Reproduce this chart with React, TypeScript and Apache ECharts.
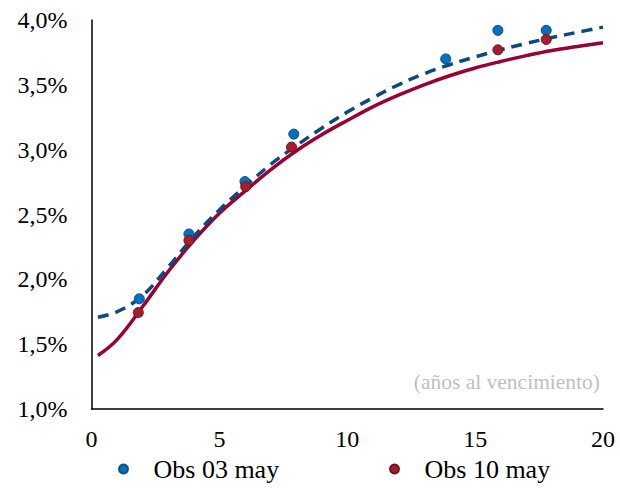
import React, { useEffect, useRef } from "react";
import * as echarts from "echarts";

const curveTenors = [0.25, 1, 2, 3, 4, 5, 6, 7, 8, 9, 10, 11, 12, 13, 14, 15, 16, 17, 18, 19, 20];
const curve03May = [1.708, 1.75, 1.875, 2.095, 2.33, 2.535, 2.715, 2.885, 3.03, 3.165, 3.29, 3.4, 3.5, 3.585, 3.655, 3.715, 3.77, 3.82, 3.865, 3.905, 3.945];
const curve10May = [1.413, 1.535, 1.79, 2.06, 2.3, 2.51, 2.68, 2.845, 2.99, 3.115, 3.225, 3.33, 3.42, 3.5, 3.57, 3.63, 3.68, 3.725, 3.765, 3.795, 3.825];

const obs03Tenors = [1.87, 3.81, 6.0, 7.91, 13.85, 15.89, 17.78];
const obs03Values = [1.85, 2.35, 2.754, 3.12, 3.7, 3.92, 3.92];
const obs10Tenors = [1.83, 3.81, 6.03, 7.82, 15.89, 17.78];
const obs10Values = [1.744, 2.3, 2.715, 3.02, 3.77, 3.85];

const legendNames = ["Obs 03 may", "Obs 10 may"];
const annotation = "(años al vencimiento)";

const FONT = "'Liberation Serif', 'Times New Roman', serif";

const zip = (xs: number[], ys: number[]) => xs.map((x, i) => [x, ys[i]]);

export default function App() {
  const ref = useRef<HTMLDivElement>(null);
  useEffect(() => {
    document.body.style.margin = "0";
    if (!ref.current) return;
    const chart = echarts.init(ref.current, undefined, { renderer: "svg" });
    chart.setOption({
      animation: false,
      backgroundColor: "#ffffff",
      textStyle: { fontFamily: FONT },
      grid: { left: 91.5, right: 17, top: 20, bottom: 80, containLabel: false },
      xAxis: {
        type: "value",
        min: 0,
        max: 20,
        interval: 5,
        axisLine: { show: true, lineStyle: { color: "#000", width: 1.5 } },
        axisTick: { show: false },
        splitLine: { show: false },
        axisLabel: { color: "#000", fontSize: 24, fontFamily: FONT, margin: 18 },
      },
      yAxis: {
        type: "value",
        min: 1,
        max: 4,
        interval: 0.5,
        axisLine: { show: true, lineStyle: { color: "#000", width: 1.5 } },
        axisTick: { show: false },
        splitLine: { show: false },
        axisLabel: {
          color: "#000",
          fontSize: 24,
          fontFamily: FONT,
          margin: 24,
          formatter: (v: number) => v.toFixed(1).replace(".", ",") + "%",
        },
      },
      legend: [
        {
          data: [legendNames[0]],
          left: 113,
          top: 451,
          icon: "circle",
          itemWidth: 50,
          itemHeight: 9,
          textStyle: { color: "#000", fontSize: 26, fontFamily: FONT },
        },
        {
          data: [legendNames[1]],
          left: 384,
          top: 451,
          icon: "circle",
          itemWidth: 50,
          itemHeight: 9,
          textStyle: { color: "#000", fontSize: 26, fontFamily: FONT },
        },
      ],
      graphic: [
        {
          type: "text",
          right: 20,
          top: 371,
          style: {
            text: annotation,
            fill: "#BFBFBF",
            font: `21.5px ${FONT}`,
          },
        },
      ],
      series: [
        {
          name: "Curva 10 may",
          type: "line",
          data: zip(curveTenors, curve10May),
          smooth: 0.4,
          showSymbol: false,
          symbol: "none",
          lineStyle: { color: "#990033", width: 3.5 },
          z: 2,
        },
        {
          name: "Curva 03 may",
          type: "line",
          data: zip(curveTenors, curve03May),
          smooth: 0.4,
          showSymbol: false,
          symbol: "none",
          lineStyle: { color: "#0B4A7A", width: 3.5, type: [11, 7] },
          z: 3,
        },
        {
          name: legendNames[0],
          type: "scatter",
          data: zip(obs03Tenors, obs03Values),
          symbolSize: 10,
          itemStyle: { color: "#0070C0", borderColor: "#0A4F86", borderWidth: 1, opacity: 1 },
          z: 4,
        },
        {
          name: legendNames[1],
          type: "scatter",
          data: zip(obs10Tenors, obs10Values),
          symbolSize: 10,
          itemStyle: { color: "#A31F2E", borderColor: "#7A0F1E", borderWidth: 1, opacity: 1 },
          z: 4,
        },
      ],
    });
    return () => chart.dispose();
  }, []);
  return <div ref={ref} style={{ width: 620, height: 489 }} />;
}
